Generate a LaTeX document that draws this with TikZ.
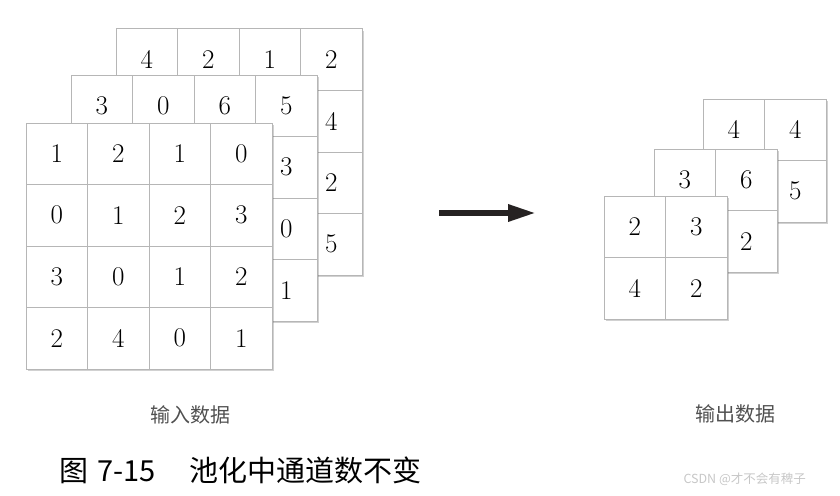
\documentclass[tikz,border=0pt]{standalone}
\usepackage{fontspec}
\newfontfamily\cjk{Noto Sans CJK SC}
\usetikzlibrary{arrows.meta,shadows}
\definecolor{gridgray}{RGB}{182,182,182}
\definecolor{labelgray}{RGB}{80,80,80}
\definecolor{arrowdark}{RGB}{38,34,34}
\tikzset{cell/.style={draw=gridgray, fill=white, line width=1pt, minimum size=61.5pt, inner sep=0pt,
    font=\fontsize{27}{27}\selectfont},
  layer/.style={fill=white, minimum size=246pt, inner sep=0pt,
    drop shadow={shadow xshift=1.5pt, shadow yshift=-2pt, opacity=0.3, fill=black!60}},
  smalllayer/.style={layer, minimum size=123pt},
  pin/.style={-{Triangle[length=28pt, width=16pt]}, line width=6pt, draw=arrowdark},
  lbl/.style={font=\cjk\fontsize{20}{20}\selectfont, text=labelgray}}

\begin{document}
\begin{tikzpicture}[x=1pt, y=-1pt]
  \useasboundingbox (0,0) rectangle (840,495);
  % input data, back to front
  \node[layer] (inC) at (239,152) {};
  \foreach \row [count=\r] in {{4,2,1,2},{,,,4},{,,,2},{,,,5}}
    \foreach \v [count=\c] in \row
      \node[cell] (inC-\r-\c) at ({116+(\c-0.5)*61.5},{29+(\r-0.5)*61.5}) {\v};
  \node[layer] (inB) at (194,198) {};
  \foreach \row [count=\r] in {{3,0,6,5},{,,,3},{,,,0},{,,,1}}
    \foreach \v [count=\c] in \row
      \node[cell] (inB-\r-\c) at ({71+(\c-0.5)*61.5},{75+(\r-0.5)*61.5}) {\v};
  \node[layer] (inA) at (149,246) {};
  \foreach \row [count=\r] in {{1,2,1,0},{0,1,2,3},{3,0,1,2},{2,4,0,1}}
    \foreach \v [count=\c] in \row
      \node[cell] (inA-\r-\c) at ({26+(\c-0.5)*61.5},{123+(\r-0.5)*61.5}) {\v};
  % output data
  \node[smalllayer] (outC) at (764.5,160.5) {};
  \foreach \row [count=\r] in {{4,4},{,5}}
    \foreach \v [count=\c] in \row
      \node[cell] (outC-\r-\c) at ({703+(\c-0.5)*61.5},{99+(\r-0.5)*61.5}) {\v};
  \node[smalllayer] (outB) at (715.5,210.5) {};
  \foreach \row [count=\r] in {{3,6},{,2}}
    \foreach \v [count=\c] in \row
      \node[cell] (outB-\r-\c) at ({654+(\c-0.5)*61.5},{149+(\r-0.5)*61.5}) {\v};
  \node[smalllayer] (outA) at (665.5,257.5) {};
  \foreach \row [count=\r] in {{2,3},{4,2}}
    \foreach \v [count=\c] in \row
      \node[cell] (outA-\r-\c) at ({604+(\c-0.5)*61.5},{196+(\r-0.5)*61.5}) {\v};
  % pooling arrow
  \coordinate (arrS) at (439,213);
  \coordinate (arrE) at (536,213);
  \draw[pin] (arrS) -- (arrE);
  % labels
  \node[lbl] (inLbl) at (190,415) {输入数据};
  \node[lbl] (outLbl) at (735,414) {输出数据};
  \node[anchor=west, inner sep=0pt, font=\cjk\fontsize{29}{29}\selectfont] (cap) at (59,470)
    {图\hspace{9pt}7-15\hspace{34pt}池化中通道数不变};
  \node[anchor=west, font=\cjk\fontsize{12.5}{12.5}\selectfont, text=black!22] (mark) at (680,479)
    {CSDN @才不会有稗子};
\end{tikzpicture}
\end{document}
